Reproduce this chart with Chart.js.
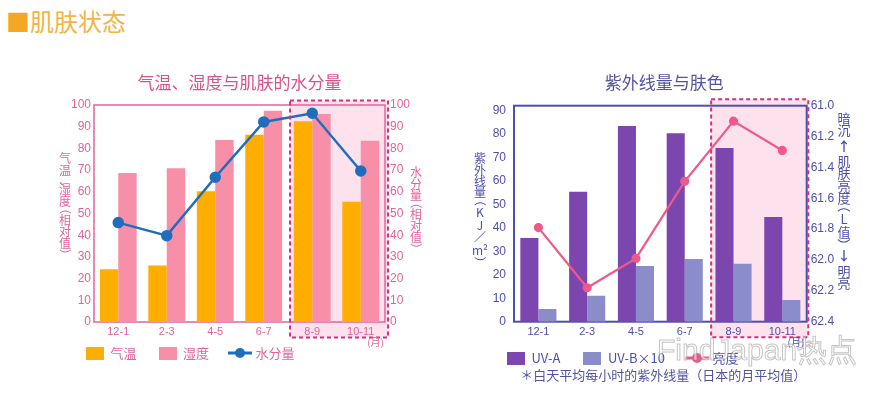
<!DOCTYPE html>
<html>
<head>
<meta charset="utf-8">
<script src="https://cdn.jsdelivr.net/npm/chart.js@4.4.0/dist/chart.umd.min.js"></script>
<style>
  body { margin: 0; width: 891px; height: 396px; background: #fff; overflow: hidden; position: relative; font-family: 'Noto Sans CJK SC', sans-serif; }
  #head { position: absolute; left: 6px; top: 3px; font-size: 24px; line-height: 36px; color: #f2b447; }
  #head b { font-weight: normal; color: #f5a623; }
  .wrap { position: absolute; top: 0; height: 396px; }
  #wm { position: absolute; left: 657px; top: 330px; font: 30px 'Liberation Sans', sans-serif; color: rgba(255,255,255,0.55); -webkit-text-stroke: 1px rgba(140,140,140,0.5); white-space: nowrap; }
</style>
</head>
<body>
<div id="head"><b>■</b>肌肤状态</div>
<div class="wrap" style="left:0;width:445px"><canvas id="skin" width="445" height="396"></canvas></div>
<div class="wrap" style="left:445px;width:446px"><canvas id="uv" width="446" height="396"></canvas></div>
<div id="wm">FindJapan热点</div>
<script>
// periods (months)
const periods = ['12-1', '2-3', '4-5', '6-7', '8-9', '10-11'];
// left chart, relative values
const temperature = [24.3, 26, 60.2, 86.3, 92.5, 55.4];
const humidity = [68.7, 70.8, 83.9, 97.4, 95.9, 83.5];
const moisture = [45.8, 39.8, 66.7, 92.2, 96.2, 69.6];
// right chart
const uvA = [35.6, 55.3, 83.4, 80.3, 74, 44.6];
const uvB10 = [5.4, 11.1, 23.7, 26.7, 24.7, 9.2];
const brightness = [61.79, 62.18, 61.99, 61.49, 61.10, 61.29];
const uvTicks = [0, 10, 20, 30, 40, 50, 60, 70, 80, 90];
// first highlighted period
const highlightFrom = 4;

const CJK = "'Noto Sans CJK SC', sans-serif";
const NARROW = "'Liberation Sans Narrow', 'Liberation Sans', sans-serif";
const PINK = '#e3639a';
const BLUE = '#4d4fae';

function boxIcon(color) {
  const c = document.createElement('canvas');
  c.width = 18; c.height = 13;
  const g = c.getContext('2d');
  g.fillStyle = color;
  g.fillRect(0, 0, 18, 13);
  return c;
}

function lineIcon(color, r) {
  const c = document.createElement('canvas');
  c.width = 24; c.height = 12;
  const g = c.getContext('2d');
  g.strokeStyle = color; g.fillStyle = color; g.lineWidth = 3;
  g.beginPath(); g.moveTo(0, 6); g.lineTo(24, 6); g.stroke();
  g.beginPath(); g.arc(12, 6, r, 0, Math.PI * 2); g.fill();
  return c;
}

// draw characters stacked top to bottom
function drawVertical(ctx, text, x, y, size, color) {
  const tokens = [];
  for (const ch of text) {
    if (ch === '²' && tokens.length) tokens[tokens.length - 1] += ch;
    else tokens.push(ch);
  }
  ctx.save();
  ctx.fillStyle = color;
  ctx.font = size + 'px ' + CJK;
  ctx.textAlign = 'center';
  ctx.textBaseline = 'middle';
  for (const t of tokens) {
    let h = size * 0.95;
    if (t === '（' || t === '）') h = size * 0.62;
    else if (t === '、') h = size * 0.7;
    else if (t === '↑' || t === '↓') h = size * 1.4;
    else if (/[A-Za-z／]/.test(t)) h = size * 1.05;
    const cy = y + h / 2;
    if (t === '（' || t === '）') {
      ctx.save();
      ctx.translate(x, cy);
      ctx.rotate(Math.PI / 2);
      ctx.fillText(t, t === '（' ? -size * 0.2 : size * 0.2, 0);
      ctx.restore();
    } else if (t === '↑' || t === '↓') {
      ctx.font = 'bold ' + size + 'px ' + CJK;
      ctx.fillText(t, x, cy);
      ctx.font = size + 'px ' + CJK;
    } else {
      ctx.fillText(t, x, cy);
    }
    y += h;
  }
  ctx.restore();
}

const decor = {
  id: 'decor',
  afterLayout(chart, args, o) {
    // legend sits right under the tick labels
    if (chart.legend) {
      const h = chart.legend.height;
      chart.legend.top = chart.chartArea.bottom + o.legendGap;
      chart.legend.bottom = chart.legend.top + h;
    }
  },
  beforeDraw(chart, args, o) {
    const {ctx, chartArea: a, scales: {x}} = chart;
    const left = (x.getPixelForValue(highlightFrom - 1) + x.getPixelForValue(highlightFrom)) / 2 + 2;
    chart.$box = {left, right: a.right + o.rightGap, top: a.top - o.topGap, bottom: a.bottom + 15.5};
    const b = chart.$box;
    ctx.save();
    ctx.fillStyle = '#fde1ed';
    ctx.fillRect(b.left, b.top, b.right - b.left, b.bottom - b.top);
    ctx.restore();
  },
  beforeDatasetsDraw(chart, args, o) {
    const {ctx, chartArea: a} = chart;
    ctx.save();
    ctx.strokeStyle = o.border;
    ctx.lineWidth = o.borderWidth;
    ctx.strokeRect(a.left, a.top, a.right - a.left, a.bottom - a.top);
    ctx.restore();
  },
  afterDatasetsDraw(chart, args, o) {
    const {ctx, chartArea: a} = chart;
    const b = chart.$box;
    ctx.save();
    ctx.strokeStyle = '#d42f80';
    ctx.lineWidth = 2;
    ctx.setLineDash([4, 3]);
    ctx.strokeRect(b.left, b.top, b.right - b.left, b.bottom - b.top);
    ctx.setLineDash([]);
    ctx.fillStyle = o.color;
    ctx.font = '10px ' + CJK;
    ctx.textAlign = 'right';
    ctx.textBaseline = 'middle';
    ctx.fillText('(月)', b.right - 4, b.bottom + 5);
    ctx.fillStyle = o.titleColor;
    ctx.font = '17px ' + CJK;
    ctx.textAlign = 'center';
    ctx.fillText(o.title, (a.left + a.right) / 2 + o.titleShift, 83);
    if (o.note) {
      ctx.font = '13px ' + CJK;
      ctx.fillText(o.note, (a.left + a.right) / 2 + 3, 375);
    }
    ctx.restore();
    drawVertical(ctx, o.leftTitle, o.leftX, o.leftY, o.leftSize, o.color);
    drawVertical(ctx, o.rightTitle, o.rightX, o.rightY, o.rightSize, o.color);
  }
};

function legendItems(icons, color) {
  return chart => chart.data.datasets.map((ds, i) => ({
    text: ds.label, pointStyle: icons[i], datasetIndex: i, hidden: false,
    lineWidth: 0, fillStyle: 'transparent', strokeStyle: 'transparent', fontColor: color
  }));
}

function axis(color, pos, opts) {
  return Object.assign({
    position: pos,
    grid: {display: false, drawTicks: false},
    border: {display: false},
    ticks: {color, font: {family: NARROW, size: 12}, padding: 3},
    afterFit(s) { s.width = 30; }
  }, opts);
}

new Chart(document.getElementById('skin'), {
  data: {
    labels: periods,
    datasets: [
      {type: 'bar', label: '气温', data: temperature, backgroundColor: '#fdae00', order: 2,
        categoryPercentage: 0.76, barPercentage: 1, yAxisID: 'y'},
      {type: 'bar', label: '湿度', data: humidity, backgroundColor: '#f78fa8', order: 2,
        categoryPercentage: 0.76, barPercentage: 1, yAxisID: 'y'},
      {type: 'line', label: '水分量', data: moisture, borderColor: '#1f6ebd', backgroundColor: '#1f6ebd',
        borderWidth: 2.5, pointRadius: 4.5, pointHoverRadius: 4.5, tension: 0, order: 1, yAxisID: 'y1'}
    ]
  },
  options: {
    responsive: false, animation: false, devicePixelRatio: 1,
    layout: {padding: {left: 64, right: 30, top: 105, bottom: 9}},
    scales: {
      x: {grid: {display: false, drawTicks: false}, border: {display: false},
        ticks: {color: PINK, font: {family: NARROW, size: 11}, padding: 3},
        afterFit(s) { s.height = 20; }},
      y: axis(PINK, 'left', {min: 0, max: 100, ticks: {stepSize: 10, color: PINK, font: {family: NARROW, size: 12}, padding: 3}}),
      y1: axis(PINK, 'right', {min: 0, max: 100, ticks: {stepSize: 10, color: PINK, font: {family: NARROW, size: 12}, padding: 5}})
    },
    plugins: {
      legend: {position: 'bottom', align: 'start',
        labels: {usePointStyle: true, pointStyleWidth: 18, padding: 22, font: {family: CJK, size: 13},
          generateLabels: legendItems([boxIcon('#fdae00'), boxIcon('#f78fa8'), lineIcon('#1f6ebd', 5)], PINK)}},
      tooltip: {enabled: false},
      decor: {border: PINK, borderWidth: 1.5, rightGap: 3, topGap: 4.5, color: PINK, titleColor: '#d9528a',
        legendGap: 2.5,
        title: '气温、湿度与肌肤的水分量', titleShift: 0,
        leftTitle: '气温、湿度（相对值）', leftX: 65, leftY: 153, leftSize: 12,
        rightTitle: '水分量（相对值）', rightX: 416, rightY: 167, rightSize: 12}
    }
  },
  plugins: [decor]
});

new Chart(document.getElementById('uv'), {
  data: {
    labels: periods,
    datasets: [
      {type: 'bar', label: 'UV-A', data: uvA, backgroundColor: '#7b46ad', order: 2,
        categoryPercentage: 0.74, barPercentage: 1, yAxisID: 'y'},
      {type: 'bar', label: 'UV-B×10', data: uvB10, backgroundColor: '#8b8cca', order: 2,
        categoryPercentage: 0.74, barPercentage: 1, yAxisID: 'y'},
      {type: 'line', label: '亮度', data: brightness, borderColor: '#f0588c', backgroundColor: '#f0588c',
        borderWidth: 2.2, pointRadius: 3.5, pointHoverRadius: 3.5, tension: 0, order: 1, yAxisID: 'y1'}
    ]
  },
  options: {
    responsive: false, animation: false, devicePixelRatio: 1,
    layout: {padding: {left: 39, right: 54.3, top: 105.7, bottom: 8.3}},
    scales: {
      x: {grid: {display: false, drawTicks: false}, border: {display: false},
        ticks: {color: BLUE, font: {family: NARROW, size: 11}, padding: 4},
        afterFit(s) { s.height = 20; }},
      y: axis(BLUE, 'left', {min: 0, max: 92,
        ticks: {color: BLUE, font: {family: NARROW, size: 12}, padding: 8},
        afterBuildTicks(s) { s.ticks = uvTicks.map(value => ({value})); }}),
      y1: axis(BLUE, 'right', {min: 61.0, max: 62.4, reverse: true,
        ticks: {stepSize: 0.2, color: BLUE, font: {family: NARROW, size: 12}, padding: 4,
          callback: v => v.toFixed(1)}})
    },
    plugins: {
      legend: {position: 'bottom', align: 'start',
        labels: {usePointStyle: true, pointStyleWidth: 18, padding: 23, font: {family: CJK, size: 13},
          generateLabels: legendItems([boxIcon('#7b46ad'), boxIcon('#8b8cca'), lineIcon('#f0588c', 5)], BLUE)}},
      tooltip: {enabled: false},
      decor: {border: BLUE, borderWidth: 2, rightGap: 1.6, topGap: 6.4, color: BLUE, titleColor: '#5453a3',
        legendGap: 6.8,
        title: '紫外线量与肤色', titleShift: 4,
        note: '＊白天平均每小时的紫外线量（日本的月平均值）',
        leftTitle: '紫外线量（KJ／m²）', leftX: 35, leftY: 153, leftSize: 12,
        rightTitle: '暗沉↑肌肤亮度（L值）↓明亮', rightX: 399, rightY: 112, rightSize: 13}
    }
  },
  plugins: [decor]
});
</script>
</body>
</html>
